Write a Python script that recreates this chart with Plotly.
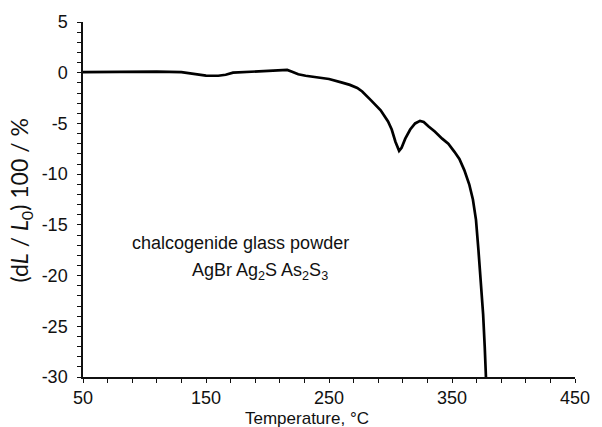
import plotly.graph_objects as go

# Dilatometric curve of a chalcogenide glass powder (AgBr-Ag2S-As2S3)
temperature_c = [50, 80, 110, 130, 140, 150, 160, 166, 172, 185, 200, 210, 216,
                 220, 225, 231, 240, 250, 260, 267, 273, 277, 284, 292, 298,
                 301, 304, 307, 309, 312, 316, 320, 324, 327, 331, 336, 342,
                 347, 352, 356, 360, 364, 367, 369.5, 371.5, 373.5, 375.3,
                 376.6, 377.6]
rel_length_pct = [0.05, 0.08, 0.1, 0.05, -0.1, -0.28, -0.3, -0.2, 0.0, 0.1, 0.2,
                  0.28, 0.28, 0.1, -0.15, -0.3, -0.45, -0.62, -0.95, -1.2, -1.5,
                  -1.85, -2.7, -3.7, -4.8, -5.6, -6.8, -7.7, -7.4, -6.5, -5.6,
                  -5.0, -4.75, -4.85, -5.3, -5.8, -6.5, -7.0, -7.8, -8.5, -9.6,
                  -11.0, -12.5, -14.5, -17.5, -20.5, -23.8, -27.0, -30.0]

x_ticks = [50, 150, 250, 350, 450]
y_ticks = [5, 0, -5, -10, -15, -20, -25, -30]
# plain hyphen-minus labels
y_tick_labels = [str(v) for v in y_ticks]

tick_font = dict(family="Liberation Sans, Arial", size=18, color="#111111")

fig = go.Figure()
fig.add_trace(go.Scatter(
    x=temperature_c, y=rel_length_pct, mode="lines",
    line=dict(color="#000000", width=2.7),
    showlegend=False, hoverinfo="skip",
))

fig.update_layout(
    width=602, height=427,
    margin=dict(l=83, r=18, t=21, b=50),
    paper_bgcolor="white", plot_bgcolor="white",
    xaxis=dict(
        range=[50, 450], tickvals=x_ticks, ticks="outside", ticklen=4,
        tickwidth=1.3, tickcolor="#111111",
        minor=dict(dtick=20, tick0=50, ticks="outside", ticklen=4,
                   tickwidth=1.3, tickcolor="#111111"),
        showline=True, linecolor="#111111", linewidth=1.5,
        showgrid=False, zeroline=False, tickfont=tick_font,
    ),
    yaxis=dict(
        range=[-30, 5], tickvals=y_ticks, ticktext=y_tick_labels,
        ticks="outside", ticklen=4, tickwidth=1.3, tickcolor="#111111",
        minor=dict(dtick=1, tick0=0, ticks="outside", ticklen=4,
                   tickwidth=1.3, tickcolor="#111111"),
        showline=True, linecolor="#111111", linewidth=1.5,
        showgrid=False, zeroline=False, tickfont=tick_font,
        ticklabelstandoff=6,
    ),
    annotations=[
        dict(text="Temperature, °C", xref="paper", yref="paper",
             x=0.455, y=-0.118, xanchor="center", yanchor="middle",
             showarrow=False, font=dict(family="Liberation Sans, Arial",
                                        size=17, color="#111111")),
        dict(text="(d<i>L</i> / <i>L</i><sub>0</sub>) 100 / %",
             xref="paper", yref="paper", x=-0.126, y=0.497,
             xanchor="center", yanchor="middle", textangle=-90,
             showarrow=False, font=dict(family="Lato", size=23,
                                        color="#111111")),
        dict(text="chalcogenide glass powder", xref="x", yref="y",
             x=88.3, y=-16.8, xanchor="left", yanchor="middle",
             showarrow=False, font=dict(family="Liberation Sans, Arial",
                                        size=18, color="#111111")),
        dict(text="AgBr Ag<sub>2</sub>S As<sub>2</sub>S<sub>3</sub>",
             xref="x", yref="y", x=137, y=-19.6, xanchor="left",
             yanchor="middle", showarrow=False,
             font=dict(family="Liberation Sans, Arial", size=18,
                       color="#111111")),
    ],
)

fig.write_html("out.html")
